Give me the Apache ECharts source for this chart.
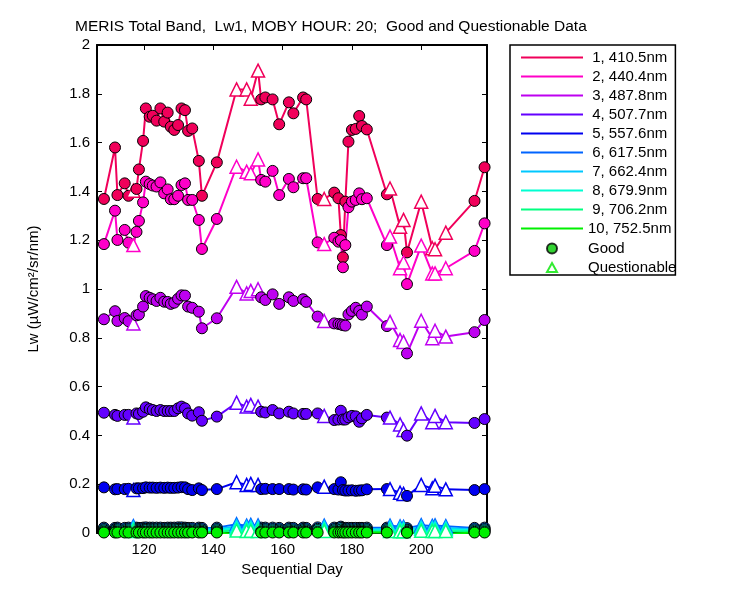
<!DOCTYPE html>
<html>
<head>
<meta charset="utf-8">
<script src="https://cdn.jsdelivr.net/npm/echarts@6/dist/echarts.min.js"></script>
<style>
  html, body { margin: 0; padding: 0; background: #fff; }
  #chart { width: 750px; height: 600px; }
</style>
</head>
<body>
<div id="chart"></div>
<script>
// sequential days of the matchups
const days = [108.4, 111.6, 112.3, 114.4, 115.5, 116.9, 117.8, 118.5, 119.7, 120.5,
  121.6, 122.5, 123.6, 124.7, 125.8, 126.8, 127.7, 128.7, 129.8, 130.8,
  131.8, 132.7, 133.9, 135.8, 136.7, 141.0, 146.7, 149.6, 150.8, 152.9,
  153.8, 155.0, 157.1, 159.0, 161.8, 163.1, 165.9, 166.8, 170.1, 172.0,
  174.9, 176.1, 176.8, 177.4, 178.1, 179.0, 180.0, 181.1, 182.1, 182.9,
  184.3, 190.1, 191.0, 193.9, 194.9, 195.9, 200.0, 203.2, 204.0, 207.1,
  215.4, 218.3]
// G = good, Q = questionable
const flags = ['G', 'G', 'G', 'G', 'G', 'Q', 'G', 'G', 'G', 'G',
  'G', 'G', 'G', 'G', 'G', 'G', 'G', 'G', 'G', 'G',
  'G', 'G', 'G', 'G', 'G', 'G', 'Q', 'Q', 'Q', 'Q',
  'G', 'G', 'G', 'G', 'G', 'G', 'G', 'G', 'G', 'Q',
  'G', 'G', 'G', 'G', 'G', 'G', 'G', 'G', 'G', 'G',
  'G', 'G', 'Q', 'Q', 'Q', 'G', 'Q', 'Q', 'Q', 'Q',
  'G', 'G']

const bandNames = [' 1, 410.5nm', ' 2, 440.4nm', ' 3, 487.8nm', ' 4, 507.7nm', ' 5, 557.6nm',
  ' 6, 617.5nm', ' 7, 662.4nm', ' 8, 679.9nm', ' 9, 706.2nm', '10, 752.5nm']
const bandColors = ['#f0005a', '#ff00c8', '#be00f0', '#6400ff', '#0000f0',
  '#0064ff', '#00c8ff', '#00ffd2', '#00ff80', '#00f000']

const lw1 = [1.369, 1.580, 1.385, 1.433, 1.382, 1.403, 1.410, 1.490, 1.607, 1.740,
  1.706, 1.710, 1.690, 1.740, 1.686, 1.723, 1.665, 1.652, 1.672, 1.740,
  1.733, 1.648, 1.658, 1.525, 1.382, 1.519, 1.818, 1.818, 1.780, 1.895,
  1.777, 1.785, 1.777, 1.675, 1.765, 1.720, 1.785, 1.777, 1.369, 1.369,
  1.395, 1.372, 1.221, 1.130, 1.358, 1.604, 1.652, 1.656, 1.709, 1.668,
  1.654, 1.388, 1.412, 1.255, 1.283, 1.150, 1.358, 1.167, 1.163, 1.231,
  1.361, 1.499]
const lw2 = [1.184, 1.321, 1.201, 1.242, 1.190, 1.180, 1.234, 1.279, 1.355, 1.440,
  1.430, 1.424, 1.420, 1.437, 1.392, 1.408, 1.368, 1.368, 1.382, 1.426,
  1.433, 1.365, 1.365, 1.283, 1.164, 1.287, 1.501, 1.481, 1.474, 1.531,
  1.447, 1.440, 1.484, 1.385, 1.451, 1.417, 1.454, 1.454, 1.191, 1.184,
  1.210, 1.194, 1.200, 1.089, 1.180, 1.335, 1.358, 1.365, 1.392, 1.368,
  1.372, 1.180, 1.215, 1.085, 1.109, 1.020, 1.178, 1.064, 1.064, 1.085,
  1.156, 1.269]
const lw3 = [0.876, 0.909, 0.869, 0.881, 0.868, 0.859, 0.892, 0.895, 0.928, 0.971,
  0.964, 0.958, 0.951, 0.964, 0.948, 0.947, 0.939, 0.944, 0.960, 0.974,
  0.973, 0.928, 0.923, 0.907, 0.839, 0.880, 1.009, 0.982, 0.992, 0.999,
  0.966, 0.955, 0.978, 0.939, 0.966, 0.951, 0.958, 0.947, 0.887, 0.869,
  0.859, 0.857, 0.855, 0.852, 0.850, 0.896, 0.910, 0.923, 0.910, 0.895,
  0.928, 0.848, 0.865, 0.791, 0.783, 0.736, 0.870, 0.798, 0.829, 0.805,
  0.823, 0.873]
const lw4 = [0.493, 0.484, 0.480, 0.484, 0.484, 0.473, 0.490, 0.488, 0.497, 0.515,
  0.508, 0.504, 0.500, 0.504, 0.500, 0.500, 0.500, 0.500, 0.511, 0.518,
  0.511, 0.490, 0.481, 0.495, 0.460, 0.477, 0.534, 0.518, 0.525, 0.518,
  0.497, 0.494, 0.504, 0.490, 0.497, 0.490, 0.488, 0.488, 0.490, 0.480,
  0.463, 0.465, 0.501, 0.465, 0.465, 0.474, 0.480, 0.478, 0.456, 0.470,
  0.484, 0.473, 0.473, 0.445, 0.422, 0.399, 0.490, 0.454, 0.480, 0.454,
  0.451, 0.467]
const lw5 = [0.187, 0.179, 0.180, 0.180, 0.181, 0.176, 0.183, 0.183, 0.184, 0.187,
  0.186, 0.186, 0.185, 0.186, 0.185, 0.186, 0.185, 0.185, 0.186, 0.188,
  0.187, 0.180, 0.176, 0.183, 0.176, 0.180, 0.208, 0.197, 0.201, 0.197,
  0.180, 0.181, 0.180, 0.180, 0.180, 0.178, 0.179, 0.178, 0.187, 0.190,
  0.180, 0.178, 0.208, 0.176, 0.174, 0.174, 0.175, 0.173, 0.174, 0.175,
  0.179, 0.180, 0.180, 0.165, 0.160, 0.152, 0.197, 0.183, 0.194, 0.179,
  0.176, 0.180]
const lw6 = [0.022, 0.021, 0.022, 0.021, 0.022, 0.028, 0.022, 0.021, 0.022, 0.023,
  0.022, 0.022, 0.022, 0.022, 0.021, 0.022, 0.022, 0.022, 0.023, 0.023,
  0.022, 0.021, 0.021, 0.022, 0.021, 0.022, 0.036, 0.030, 0.033, 0.031,
  0.022, 0.022, 0.022, 0.021, 0.022, 0.021, 0.022, 0.021, 0.023, 0.030,
  0.022, 0.021, 0.026, 0.021, 0.021, 0.021, 0.021, 0.021, 0.021, 0.021,
  0.022, 0.022, 0.030, 0.027, 0.025, 0.020, 0.032, 0.029, 0.031, 0.028,
  0.021, 0.022]
const lw7 = [0.016, 0.015, 0.016, 0.015, 0.016, 0.021, 0.016, 0.015, 0.016, 0.017,
  0.016, 0.016, 0.016, 0.016, 0.015, 0.016, 0.016, 0.016, 0.017, 0.017,
  0.016, 0.015, 0.015, 0.016, 0.015, 0.016, 0.027, 0.023, 0.025, 0.023,
  0.016, 0.016, 0.016, 0.015, 0.016, 0.015, 0.016, 0.015, 0.017, 0.023,
  0.016, 0.015, 0.020, 0.015, 0.015, 0.015, 0.015, 0.015, 0.015, 0.015,
  0.016, 0.016, 0.023, 0.020, 0.019, 0.014, 0.024, 0.022, 0.023, 0.021,
  0.015, 0.016]
const lw8 = [0.011, 0.010, 0.011, 0.010, 0.011, 0.015, 0.011, 0.010, 0.011, 0.012,
  0.011, 0.011, 0.011, 0.011, 0.010, 0.011, 0.011, 0.011, 0.012, 0.012,
  0.011, 0.010, 0.010, 0.011, 0.010, 0.011, 0.019, 0.016, 0.018, 0.016,
  0.011, 0.011, 0.011, 0.010, 0.011, 0.010, 0.011, 0.010, 0.012, 0.016,
  0.011, 0.010, 0.014, 0.010, 0.010, 0.010, 0.010, 0.010, 0.010, 0.010,
  0.011, 0.011, 0.016, 0.014, 0.013, 0.010, 0.017, 0.015, 0.016, 0.015,
  0.010, 0.011]
const lw9 = [0.006, 0.005, 0.006, 0.005, 0.006, 0.008, 0.006, 0.005, 0.006, 0.006,
  0.006, 0.006, 0.006, 0.006, 0.005, 0.006, 0.006, 0.006, 0.006, 0.006,
  0.006, 0.005, 0.005, 0.006, 0.005, 0.006, 0.010, 0.008, 0.009, 0.008,
  0.006, 0.006, 0.006, 0.005, 0.006, 0.005, 0.006, 0.005, 0.006, 0.008,
  0.006, 0.005, 0.007, 0.005, 0.005, 0.005, 0.005, 0.005, 0.005, 0.005,
  0.006, 0.006, 0.008, 0.007, 0.007, 0.005, 0.009, 0.008, 0.008, 0.008,
  0.005, 0.006]
const lw10 = [0.002, 0.002, 0.002, 0.002, 0.002, -0.003, 0.002, 0.002, 0.002, 0.002,
  0.002, 0.002, 0.002, 0.002, 0.002, 0.002, 0.002, 0.002, 0.002, 0.002,
  0.002, 0.002, 0.002, 0.002, 0.002, 0.002, -0.004, -0.004, -0.004, -0.004,
  0.002, 0.002, 0.002, 0.002, 0.002, 0.002, 0.002, 0.002, 0.002, -0.003,
  0.002, 0.002, 0.003, 0.002, 0.002, 0.002, 0.002, 0.002, 0.002, 0.002,
  0.002, 0.002, -0.004, -0.004, -0.004, 0.001, -0.004, -0.004, -0.004, -0.004,
  0.002, 0.002]
const bandValues = [lw1, lw2, lw3, lw4, lw5, lw6, lw7, lw8, lw9, lw10]

const xTicks = [120, 140, 160, 180, 200]
const font = 'Liberation Sans'

function buildSeries(values, i) {
  const color = bandColors[i]
  return {
    name: bandNames[i],
    type: 'line',
    showAllSymbol: true,
    lineStyle: { color: color, width: 2 },
    itemStyle: { color: color, borderColor: '#000', borderWidth: 1 },
    symbol: 'circle',
    symbolSize: 11,
    data: values.map((v, k) => {
      if (flags[k] === 'Q') {
        return {
          value: [days[k], v],
          symbol: 'triangle',
          symbolSize: 13,
          itemStyle: { color: '#fff', borderColor: color, borderWidth: 1.5 }
        }
      }
      return { value: [days[k], v] }
    })
  }
}

const series = bandValues.map(buildSeries)
series.push({
  name: 'Good', type: 'scatter', data: [],
  itemStyle: { color: '#00c800', borderColor: '#000', borderWidth: 1 }
})
series.push({
  name: 'Questionable', type: 'scatter', data: [],
  itemStyle: { color: '#fff', borderColor: '#00e600', borderWidth: 2 }
})

const chart = echarts.init(document.getElementById('chart'))
chart.setOption({
  animation: false,
  backgroundColor: '#fff',
  textStyle: { fontFamily: font },
  title: {
    text: 'MERIS Total Band,  Lw1, MOBY HOUR: 20;  Good and Questionable Data',
    left: 75,
    top: 19,
    padding: 0,
    textStyle: { fontFamily: font, fontSize: 15.5, fontWeight: 'normal', color: '#000' }
  },
  legend: [
    {
      orient: 'vertical',
      left: 510,
      top: 45,
      padding: [5, 4, 39, 11],
      itemWidth: 62,
      itemHeight: 2,
      itemGap: 4,
      borderColor: '#000',
      borderWidth: 1.5,
      backgroundColor: '#fff',
      selectedMode: false,
      textStyle: { fontFamily: font, fontSize: 15, color: '#000' },
      data: bandNames.map((n, i) => ({
        name: n,
        icon: 'rect',
        itemStyle: { color: bandColors[i], borderWidth: 0 }
      }))
    },
    {
      orient: 'vertical',
      left: 546,
      top: 241,
      padding: 0,
      itemWidth: 10,
      itemHeight: 10,
      itemGap: 4,
      selectedMode: false,
      textStyle: { fontFamily: font, fontSize: 15, color: '#000', padding: [0, 0, 0, 26] },
      data: [
        { name: 'Good', icon: 'circle' },
        { name: 'Questionable', icon: 'path://M5,0L10,9L0,9Z' }
      ]
    }
  ],
  grid: { left: 97, right: 263, top: 45, bottom: 67, containLabel: false },
  xAxis: [
    {
      type: 'value',
      min: 106.4,
      max: 219,
      name: 'Sequential Day',
      nameLocation: 'middle',
      nameGap: 27,
      nameTextStyle: { fontFamily: font, fontSize: 15, color: '#000' },
      axisLine: { onZero: false, lineStyle: { color: '#000', width: 2 } },
      axisTick: { inside: true, length: 5, customValues: xTicks, lineStyle: { color: '#000' } },
      axisLabel: { customValues: xTicks, fontFamily: font, fontSize: 15, color: '#000', margin: 9 },
      splitLine: { show: false }
    },
    {
      type: 'value',
      position: 'top',
      min: 106.4,
      max: 219,
      axisLine: { onZero: false, lineStyle: { color: '#000', width: 2 } },
      axisTick: { inside: true, length: 5, customValues: xTicks, lineStyle: { color: '#000' } },
      axisLabel: { show: false },
      splitLine: { show: false }
    }
  ],
  yAxis: [
    {
      type: 'value',
      min: 0,
      max: 2,
      interval: 0.2,
      name: 'Lw (µW/cm²/sr/nm)',
      nameLocation: 'middle',
      nameGap: 56,
      nameTextStyle: { fontFamily: font, fontSize: 15, color: '#000' },
      axisLine: { show: true, onZero: false, lineStyle: { color: '#000', width: 2 } },
      axisTick: { show: true, inside: true, length: 5, lineStyle: { color: '#000' } },
      axisLabel: { fontFamily: font, fontSize: 15, color: '#000', margin: 7 },
      splitLine: { show: false }
    },
    {
      type: 'value',
      position: 'right',
      min: 0,
      max: 2,
      interval: 0.2,
      axisLine: { show: true, onZero: false, lineStyle: { color: '#000', width: 2 } },
      axisTick: { show: true, inside: true, length: 5, lineStyle: { color: '#000' } },
      axisLabel: { show: false },
      splitLine: { show: false }
    }
  ],
  series: series
})
</script>
</body>
</html>
